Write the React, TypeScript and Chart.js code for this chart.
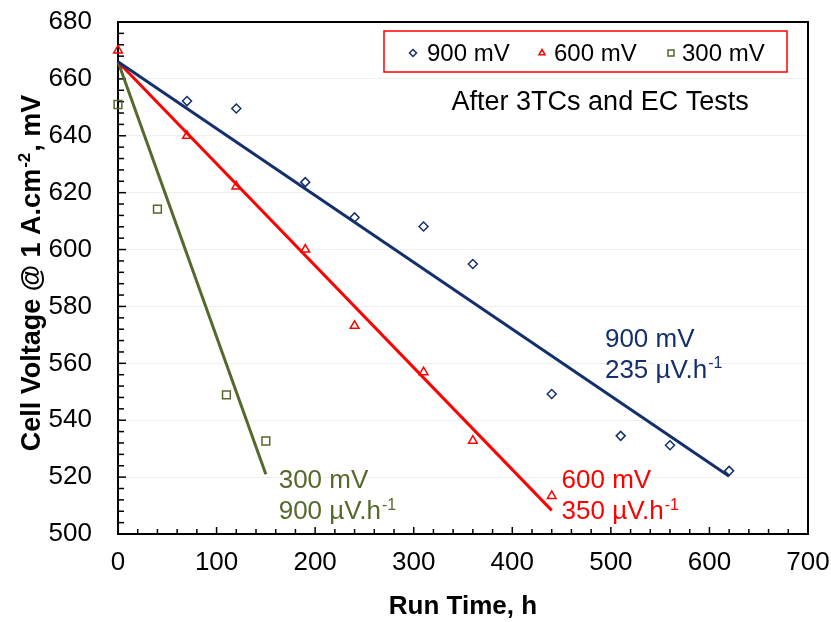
import React, { useEffect, useRef } from 'react';
import { Chart, registerables } from 'chart.js';

Chart.register(...registerables);

const FONT = '"Liberation Sans", Arial, Helvetica, sans-serif';

const NAVY = '#13306C';
const RED = '#FF0000';
const OLIVE = '#55692D';

const seriesNames = ['900 mV', '600 mV', '300 mV'];

const hours900 = [70, 120, 190, 240, 310, 360, 440, 510, 560, 620];
const volts900 = [652.2, 649.6, 623.7, 611.3, 608.1, 594.9, 549.2, 534.5, 531.2, 522.2];

const hours600 = [0, 70, 120, 190, 240, 310, 360, 440];
const volts600 = [670, 640, 622.2, 600, 573.2, 556.9, 532.8, 513.4];

const hours300 = [0, 40, 110, 150];
const volts300 = [651, 614.2, 548.9, 532.7];

const trendHours900 = [0, 620];
const trendVolts900 = [666, 520.3];
const trendHours600 = [0, 440];
const trendVolts600 = [666, 508.3];
const trendHours300 = [0, 150];
const trendVolts300 = [666, 521];

const xTickValues = [0, 100, 200, 300, 400, 500, 600, 700];
const yTickValues = [500, 520, 540, 560, 580, 600, 620, 640, 660, 680];

const rateLabels = ['235 µV.h', '350 µV.h', '900 µV.h'];
const rateSup = '-1';
const noteText = 'After 3TCs and EC Tests';
const xTitle = 'Run Time, h';
const yTitleMain = 'Cell Voltage @ 1 A.cm';
const yTitleSup = '-2';
const yTitleEnd = ', mV';

// annotation anchors in data coordinates [hours, volts] (first-line baseline)
const labelAnchor900 = [494, 565.8];
const labelAnchor600 = [450, 516.2];
const labelAnchor300 = [163, 516.2];
const noteAnchor = [338.4, 649.2];

const pts = (xs: number[], ys: number[]) => xs.map((x, i) => ({ x, y: ys[i] }));

function drawSupText(
  ctx: CanvasRenderingContext2D,
  x: number,
  y: number,
  base: string,
  sup: string,
  size: number,
  color: string
) {
  ctx.fillStyle = color;
  ctx.textAlign = 'left';
  ctx.textBaseline = 'alphabetic';
  ctx.font = `${size}px ${FONT}`;
  ctx.fillText(base, x, y);
  const w = ctx.measureText(base).width;
  ctx.font = `${Math.round(size * 0.62)}px ${FONT}`;
  ctx.fillText(sup, x + w + 1, y - size * 0.36);
}

function marker(ctx: CanvasRenderingContext2D, kind: string, x: number, y: number, r: number, color: string) {
  ctx.strokeStyle = color;
  ctx.lineWidth = 1.5;
  ctx.beginPath();
  if (kind === 'diamond') {
    ctx.moveTo(x, y - r);
    ctx.lineTo(x + r, y);
    ctx.lineTo(x, y + r);
    ctx.lineTo(x - r, y);
    ctx.closePath();
  } else if (kind === 'triangle') {
    ctx.moveTo(x, y - r);
    ctx.lineTo(x + r * 0.87, y + r * 0.5);
    ctx.lineTo(x - r * 0.87, y + r * 0.5);
    ctx.closePath();
  } else {
    ctx.rect(x - r, y - r, 2 * r, 2 * r);
  }
  ctx.stroke();
}

const framePlugin = {
  id: 'frame',
  beforeDatasetsDraw(chart: any) {
    const { ctx, chartArea: ca, scales } = chart;
    const xs = scales.x;
    const ys = scales.y;
    ctx.save();
    ctx.strokeStyle = '#000';
    ctx.lineWidth = 2;
    ctx.strokeRect(ca.left, ca.top, ca.right - ca.left, ca.bottom - ca.top);
    ctx.lineWidth = 1.5;
    // x ticks (inside)
    for (let i = 0; i < xTickValues.length; i++) {
      const v = xTickValues[i];
      const px = xs.getPixelForValue(v);
      ctx.beginPath();
      ctx.moveTo(px, ca.bottom);
      ctx.lineTo(px, ca.bottom - 7);
      ctx.stroke();
      if (i < xTickValues.length - 1) {
        const step = (xTickValues[i + 1] - v) / 5;
        for (let k = 1; k < 5; k++) {
          const mp = xs.getPixelForValue(v + k * step);
          ctx.beginPath();
          ctx.moveTo(mp, ca.bottom);
          ctx.lineTo(mp, ca.bottom - 5);
          ctx.stroke();
        }
      }
    }
    for (let i = 0; i < yTickValues.length; i++) {
      const v = yTickValues[i];
      const py = ys.getPixelForValue(v);
      ctx.beginPath();
      ctx.moveTo(ca.left, py);
      ctx.lineTo(ca.left + 8, py);
      ctx.stroke();
      if (i < yTickValues.length - 1) {
        const step = (yTickValues[i + 1] - v) / 5;
        for (let k = 1; k < 5; k++) {
          const mp = ys.getPixelForValue(v + k * step);
          ctx.beginPath();
          ctx.moveTo(ca.left, mp);
          ctx.lineTo(ca.left + 6, mp);
          ctx.stroke();
        }
      }
    }
    ctx.restore();
  },
  afterDraw(chart: any) {
    const { ctx, chartArea: ca, scales } = chart;
    const xs = scales.x;
    const ys = scales.y;
    ctx.save();

    // y title (rotated, with superscript)
    ctx.translate(40, (ca.top + ca.bottom) / 2 - 5);
    ctx.rotate(-Math.PI / 2);
    ctx.fillStyle = '#000';
    ctx.textBaseline = 'alphabetic';
    ctx.textAlign = 'left';
    const big = `bold 27px ${FONT}`;
    const small = `bold 17px ${FONT}`;
    ctx.font = big;
    const w1 = ctx.measureText(yTitleMain).width;
    const w3 = ctx.measureText(yTitleEnd).width;
    ctx.font = small;
    const w2 = ctx.measureText(yTitleSup).width;
    const total = w1 + w2 + 2 + w3;
    let tx = -total / 2;
    ctx.font = big;
    ctx.fillText(yTitleMain, tx, 0);
    tx += w1 + 1;
    ctx.font = small;
    ctx.fillText(yTitleSup, tx, -10);
    tx += w2 + 1;
    ctx.font = big;
    ctx.fillText(yTitleEnd, tx, 0);
    ctx.restore();

    ctx.save();
    // legend
    const lx = 384, ly = 31, lw = 403, lh = 41;
    ctx.fillStyle = '#fff';
    ctx.fillRect(lx, ly, lw, lh);
    ctx.strokeStyle = RED;
    ctx.lineWidth = 1.5;
    ctx.strokeRect(lx, ly, lw, lh);
    const kinds = ['diamond', 'triangle', 'square'];
    const colors = [NAVY, RED, OLIVE];
    const mx = [413, 542, 671];
    const tx2 = [427, 554, 682];
    for (let i = 0; i < 3; i++) {
      marker(ctx, kinds[i], mx[i], 53, i === 2 ? 3 : 3.5, colors[i]);
      ctx.fillStyle = '#000';
      ctx.font = `24px ${FONT}`;
      ctx.textAlign = 'left';
      ctx.textBaseline = 'alphabetic';
      ctx.fillText(seriesNames[i], tx2[i], 61);
    }

    // note
    ctx.font = `27px ${FONT}`;
    ctx.fillStyle = '#000';
    ctx.fillText(noteText, xs.getPixelForValue(noteAnchor[0]), ys.getPixelForValue(noteAnchor[1]));

    // rate labels
    const anchors = [labelAnchor900, labelAnchor600, labelAnchor300];
    for (let i = 0; i < 3; i++) {
      const ax = xs.getPixelForValue(anchors[i][0]);
      const ay = ys.getPixelForValue(anchors[i][1]);
      ctx.font = `26px ${FONT}`;
      ctx.fillStyle = colors[i];
      ctx.textAlign = 'left';
      ctx.textBaseline = 'alphabetic';
      ctx.fillText(seriesNames[i], ax, ay);
      drawSupText(ctx, ax, ay + 31, rateLabels[i], rateSup, 26, colors[i]);
    }
    ctx.restore();
  },
};

export default function App() {
  const ref = useRef<HTMLCanvasElement | null>(null);

  useEffect(() => {
    if (!ref.current) return;
    const scatterBase = {
      type: 'scatter' as const,
      showLine: false,
      backgroundColor: 'rgba(0,0,0,0)',
      borderWidth: 1.5,
      clip: false as any,
    };
    const lineBase = {
      type: 'scatter' as const,
      showLine: true,
      pointRadius: 0,
      pointHoverRadius: 0,
      borderWidth: 3,
      fill: false,
      clip: false as any,
    };
    const chart = new Chart(ref.current, {
      type: 'scatter',
      data: {
        datasets: [
          { ...lineBase, label: 'trend900', data: pts(trendHours900, trendVolts900), borderColor: NAVY },
          { ...lineBase, label: 'trend600', data: pts(trendHours600, trendVolts600), borderColor: RED },
          { ...lineBase, label: 'trend300', data: pts(trendHours300, trendVolts300), borderColor: OLIVE },
          {
            ...scatterBase,
            label: seriesNames[0],
            data: pts(hours900, volts900),
            pointStyle: 'rectRot',
            pointRadius: 4.5,
            borderColor: NAVY,
          },
          {
            ...scatterBase,
            label: seriesNames[1],
            data: pts(hours600, volts600),
            pointStyle: 'triangle',
            pointRadius: 5,
            borderColor: RED,
          },
          {
            ...scatterBase,
            label: seriesNames[2],
            data: pts(hours300, volts300),
            pointStyle: 'rect',
            pointRadius: 5.5,
            borderColor: OLIVE,
          },
        ],
      },
      options: {
        responsive: false,
        animation: false,
        devicePixelRatio: 1,
        layout: { padding: { top: 22, right: 23, left: 0, bottom: 0 } },
        plugins: {
          legend: { display: false },
          tooltip: { enabled: false },
          title: { display: false },
        },
        scales: {
          x: {
            type: 'linear',
            min: 0,
            max: 700,
            afterBuildTicks: (s: any) => {
              s.ticks = xTickValues.map((v) => ({ value: v }));
            },
            afterFit: (s: any) => {
              s.height = 88;
              s.paddingLeft = 0;
              s.paddingRight = 0;
            },
            grid: { display: false, drawTicks: false },
            border: { display: false },
            ticks: {
              color: '#000',
              font: { family: FONT, size: 26 },
              padding: 13,
              maxRotation: 0,
              autoSkip: false,
            },
            title: {
              display: true,
              text: xTitle,
              color: '#000',
              font: { family: FONT, size: 26, weight: 'bold' },
              padding: { top: 0, bottom: 0 },
            },
          },
          y: {
            type: 'linear',
            min: 500,
            max: 680,
            afterBuildTicks: (s: any) => {
              s.ticks = yTickValues.map((v) => ({ value: v }));
            },
            afterFit: (s: any) => {
              s.width = 118;
              s.paddingTop = 0;
              s.paddingBottom = 0;
            },
            grid: { color: '#efefef', lineWidth: 1, drawTicks: false },
            border: { display: false },
            ticks: {
              color: '#000',
              font: { family: FONT, size: 26 },
              padding: 26,
              autoSkip: false,
            },
          },
        },
      } as any,
      plugins: [framePlugin],
    });
    return () => chart.destroy();
  }, []);

  return (
    <div style={{ position: 'fixed', left: 0, top: 0, width: 831, height: 622, background: '#fff' }}>
      <canvas ref={ref} width={831} height={622} style={{ display: 'block' }} />
    </div>
  );
}
